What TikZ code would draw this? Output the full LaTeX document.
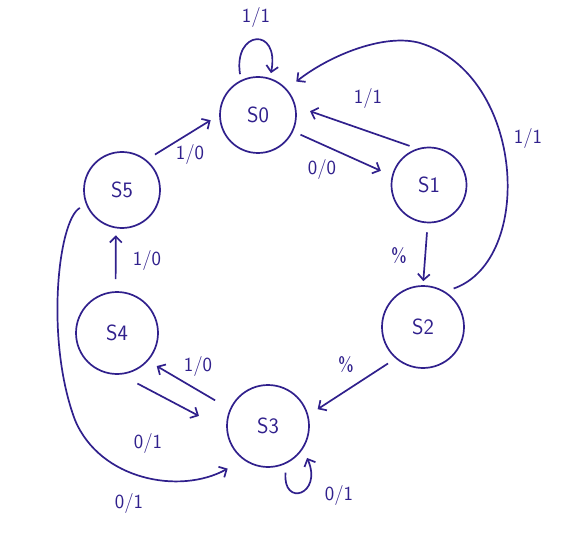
\documentclass[tikz,border=0pt]{standalone}
\usetikzlibrary{arrows.meta}
\definecolor{ink}{RGB}{48,32,140}
\tikzset{
  state/.style={circle, draw=ink, line width=1.7pt, inner sep=0pt, minimum size=#1, text=ink, font=\sffamily\fontsize{22}{26}\selectfont},
  arr/.style={draw=ink, line width=1.7pt, -{Straight Barb[length=6pt,width=12pt,line width=1.7pt]}},
  lab/.style={text=ink, font=\sffamily\fontsize{20}{24}\selectfont, inner sep=0pt}
}
\begin{document}
\begin{tikzpicture}[x=1pt,y=-1pt]
\useasboundingbox (0,0) rectangle (586,540);
\node[state=76pt] (s0) at (258,115) {S0};
\node[state=75pt] (s1) at (429,185) {S1};
\node[state=82pt] (s2) at (423,327) {S2};
\node[state=82pt] (s3) at (268,426) {S3};
\node[state=82pt] (s4) at (117,333) {S4};
\node[state=76pt] (s5) at (122,190) {S5};

% self loops
\draw[arr, shorten <=6pt, shorten >=5pt] (s0.116) .. controls +(-8,-50) and +(10,-52) .. (s0.72);
\draw[arr, shorten <=9pt, shorten >=10pt] (s3.-64) .. controls +(-4,44) and +(20,46) .. (s3.-33);

% straight edges
\draw[arr, shorten <=8pt, shorten >=12pt] (s0.-25) -- (s1.166);
\draw[arr, shorten <=8pt, shorten >=15pt] (s1.108) -- (s0.13);
\draw[arr, shorten <=9pt, shorten >=4pt] (s1.-92) -- (s2.90);
\draw[arr, shorten <=9pt, shorten >=11pt] (s2.-131) -- (s3.15);
\draw[arr, shorten <=17pt, shorten >=10pt] (s3.156) -- (s4.-42);
\draw[arr, shorten <=19pt, shorten >=31pt] (s4.-85) -- (s3.-174);
\draw[arr, shorten <=12pt, shorten >=7pt] (s4.92) -- (s5.-99);
\draw[arr, shorten <=10pt, shorten >=10pt] (s5.51) -- (s0.180);

% long curves
\draw[arr, shorten <=9pt, shorten >=12pt] (s2.58) .. controls (535,260) and (525,75) .. (420,43)
   .. controls (385,33) and (330,55) .. (s0.42);
\draw[arr, shorten <=7pt, shorten >=18pt] (s5.-158) .. controls (58,220) and (45,340) .. (75,420)
   .. controls (100,480) and (180,495) .. (s3.-126);

% labels
\node[lab] (l1) at (256,18) {1/1};
\node[lab] (l2) at (322,170) {0/0};
\node[lab] (l3) at (368,99) {1/1};
\node[lab] (l4) at (528,139) {1/1};
\node[lab] (l5) at (399,256) {\%};
\node[lab] (l6) at (346,365) {\%};
\node[lab] (l7) at (190,155) {1/0};
\node[lab] (l8) at (147,260) {1/0};
\node[lab] (l9) at (198,366) {1/0};
\node[lab] (l10) at (148,443) {0/1};
\node[lab] (l11) at (129,503) {0/1};
\node[lab] (l12) at (339,495) {0/1};
\end{tikzpicture}
\end{document}
